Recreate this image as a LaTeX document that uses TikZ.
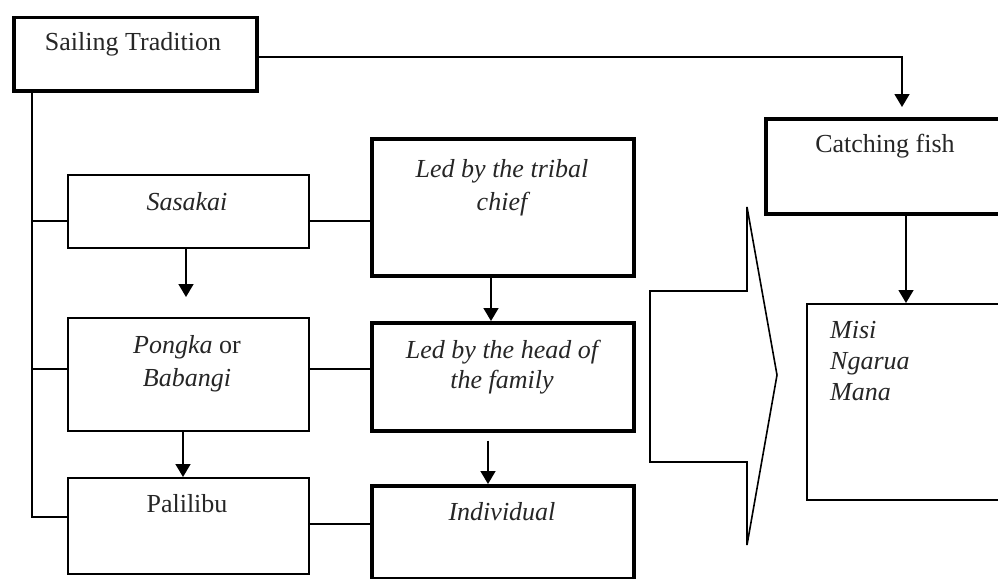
\documentclass[tikz,border=0pt]{standalone}
\usepackage{fontspec}
\setmainfont{Liberation Serif}
\usetikzlibrary{arrows.meta}
\begin{document}
\begin{tikzpicture}[x=1pt,y=-1pt,
  box/.style={draw, anchor=north west, inner sep=0pt},
  heavy/.style={box, line width=3.5pt},
  medium/.style={box, line width=2.2pt},
  light/.style={box, line width=1.6pt},
  txt/.style={anchor=base, inner sep=0pt, text=black!85, font=\fontsize{26}{31}\selectfont},
  ltxt/.style={txt, anchor=base west},
  conn/.style={line width=1.6pt},
  arr/.style={conn, -{Triangle[width=15pt,length=13pt]}}]
\clip (0,0) rectangle (998,578);
\fill[white] (0,0) rectangle (998,578);

% boxes
\node[heavy, minimum width=243pt, minimum height=73pt] (sail) at (12,16) {};
\node[medium, minimum width=241pt, minimum height=73pt] (sas) at (67,174) {};
\node[medium, minimum width=241pt, minimum height=113pt] (pong) at (67,317) {};
\node[medium, minimum width=241pt, minimum height=96pt] (pal) at (67,477) {};
\node[heavy, minimum width=262pt, minimum height=137pt] (chief) at (370,137) {};
\node[heavy, minimum width=262pt, minimum height=108pt] (head) at (370,321) {};
\node[heavy, minimum width=262pt, minimum height=93pt] (indiv) at (370,484) {};
\node[heavy, minimum width=250pt, minimum height=95pt] (catch) at (764,117) {};
\node[light, minimum width=210pt, minimum height=196pt] (misi) at (806,303) {};

% texts
\node[txt] (sailT) at (133,51) {Sailing Tradition};
\node[txt] (sasT) at (187,210) {\itshape Sasakai};
\node[txt] (pongT1) at (187,353) {\textit{Pongka} or};
\node[txt] (pongT2) at (187,386) {\itshape Babangi};
\node[txt] (palT) at (187,512) {Palilibu};
\node[txt] (chiefT1) at (502,177) {\itshape Led by the tribal};
\node[txt] (chiefT2) at (502,210) {\itshape chief};
\node[txt] (headT1) at (502,358) {\itshape Led by the head of};
\node[txt] (headT2) at (502,388) {\itshape the family};
\node[txt] (indivT) at (502,520) {\itshape Individual};
\node[txt] (catchT) at (885,152) {Catching fish};
\node[ltxt] (misiT1) at (830,338) {\itshape Misi};
\node[ltxt] (misiT2) at (830,369) {\itshape Ngarua};
\node[ltxt] (misiT3) at (830,400) {\itshape Mana};

% connector reference points
\coordinate (b1) at (32,221);
\coordinate (b2) at (32,369);
\coordinate (b3) at (32,517);
\coordinate (r3) at (0,524);
\coordinate (turn) at (902,57);
\coordinate (xa) at (186,0);
\coordinate (xb) at (183,0);
\coordinate (xc) at (491,0);
\coordinate (xd) at (488,0);
\coordinate (xe) at (906,0);

% trunk and branches
\draw[conn] (sail.south -| b1) -- (b3) -- (b3 -| pal.west);
\draw[conn] (b1) -- (b1 -| sas.west);
\draw[conn] (b2) -- (b2 -| pong.west);
\draw[conn] (sas.east |- b1) -- (chief.west |- b1);
\draw[conn] (pong.east |- b2) -- (head.west |- b2);
\draw[conn] (pal.east |- r3) -- (indiv.west |- r3);

% arrows
\draw[arr, shorten >=10pt] (sail.east |- turn) -- (turn) -- (turn |- catch.north);
\draw[arr, shorten >=20pt] (sas.south -| xa) -- (pong.north -| xa);
\draw[arr] (pong.south -| xb) -- (pal.north -| xb);
\draw[arr] (chief.south -| xc) -- (head.north -| xc);
\draw[arr, shorten <=8pt] (head.south -| xd) -- (indiv.north -| xd);
\draw[arr] (catch.south -| xe) -- (misi.north -| xe);

% big chevron arrow
\draw[line width=1.6pt, line join=miter] (650,291) -- (747,291) -- (747,207) -- (777,375) -- (747,545) -- (747,462) -- (650,462) -- cycle;
\end{tikzpicture}
\end{document}
